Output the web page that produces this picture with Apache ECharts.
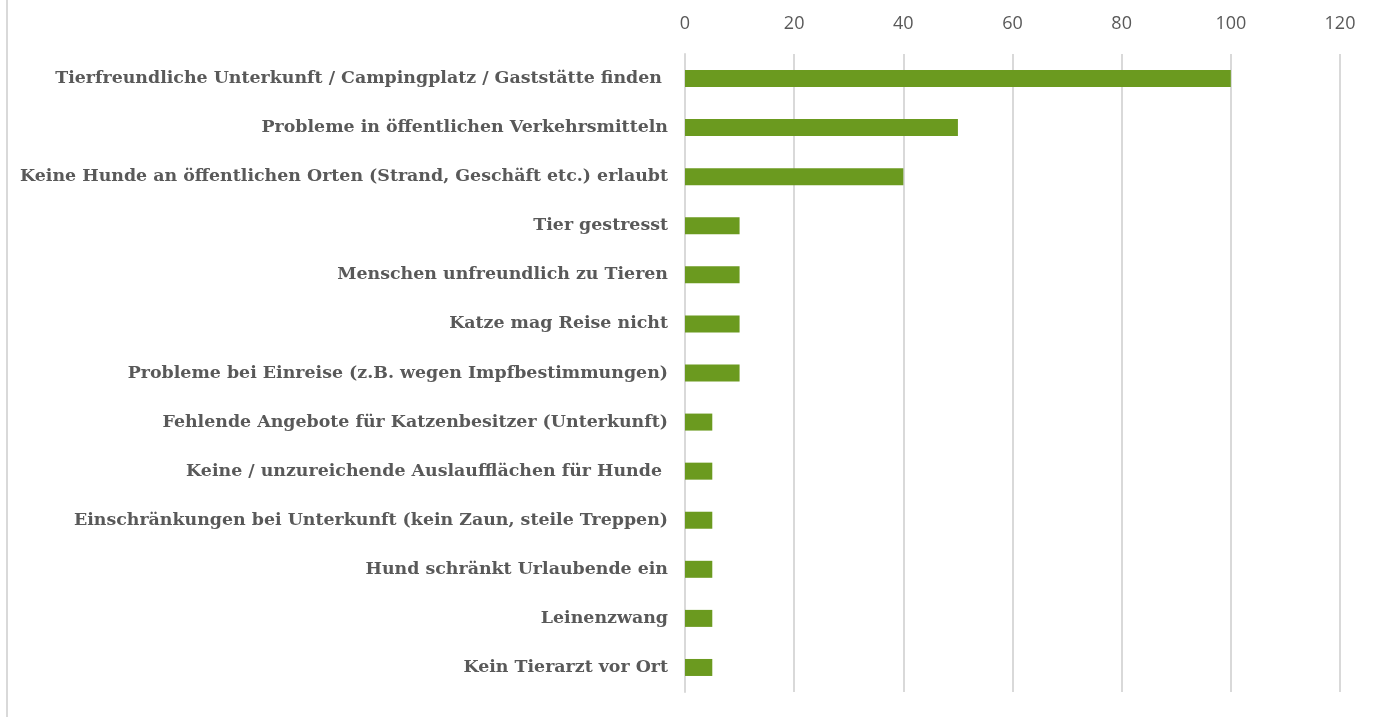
<!DOCTYPE html>
<html>
<head>
<meta charset="utf-8">
<script src="https://cdn.jsdelivr.net/npm/echarts@6/dist/echarts.min.js"></script>
<style>
html,body{margin:0;padding:0;background:#fff;}
#chart{width:1378px;height:717px;}
</style>
</head>
<body>
<div id="chart"></div>
<script>
const categories = [
  "Tierfreundliche Unterkunft / Campingplatz / Gaststätte finden ",
  "Probleme in öffentlichen Verkehrsmitteln",
  "Keine Hunde an öffentlichen Orten (Strand, Geschäft etc.) erlaubt",
  "Tier gestresst",
  "Menschen unfreundlich zu Tieren",
  "Katze mag Reise nicht",
  "Probleme bei Einreise (z.B. wegen Impfbestimmungen)",
  "Fehlende Angebote für Katzenbesitzer (Unterkunft)",
  "Keine / unzureichende Auslaufflächen für Hunde ",
  "Einschränkungen bei Unterkunft (kein Zaun, steile Treppen)",
  "Hund schränkt Urlaubende ein",
  "Leinenzwang",
  "Kein Tierarzt vor Ort"
];
const values = [100, 50, 40, 10, 10, 10, 10, 5, 5, 5, 5, 5, 5];
const axisMin = 0, axisMax = 120, axisStep = 20;

const chart = echarts.init(document.getElementById('chart'), null, {renderer: 'canvas'});
chart.setOption({
  animation: false,
  backgroundColor: '#fff',
  grid: {left: 685, right: 38, top: 54, bottom: 25, containLabel: false},
  xAxis: {
    type: 'value', position: 'top', min: axisMin, max: axisMax, interval: axisStep,
    axisLine: {show: false}, axisTick: {show: false},
    axisLabel: {color: '#595959', fontSize: 18, fontFamily: 'Open Sans', margin: 21},
    splitLine: {lineStyle: {color: '#d9d9d9', width: 2}}
  },
  yAxis: {
    type: 'category', data: categories, inverse: true,
    axisLine: {show: true, lineStyle: {color: '#d9d9d9', width: 2}},
    axisTick: {show: false},
    axisLabel: {color: '#595959', fontSize: 17.4, fontWeight: 'bold', fontFamily: 'DejaVu Serif', margin: 17}
  },
  series: [{
    type: 'bar', data: values, barWidth: 17,
    itemStyle: {color: '#6b9a1f'}
  }],
  graphic: [{
    type: 'line', shape: {x1: 7, y1: 0, x2: 7, y2: 717},
    style: {stroke: '#d9d9d9', lineWidth: 2}
  }]
});
</script>
</body>
</html>
